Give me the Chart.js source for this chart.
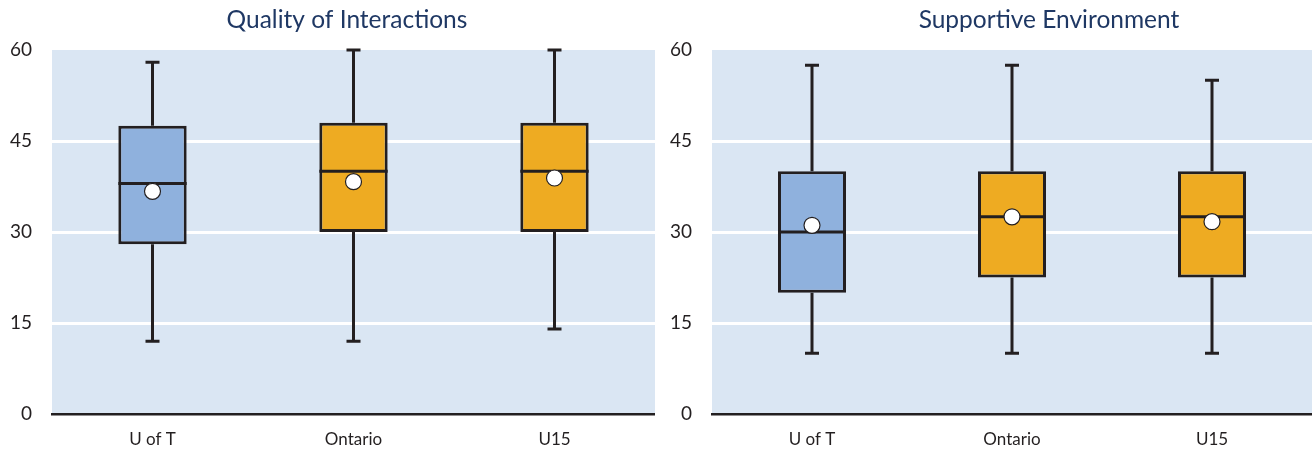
<!DOCTYPE html>
<html>
<head>
<meta charset="utf-8">
<title>Quality of Interactions / Supportive Environment</title>
<script src="https://cdn.jsdelivr.net/npm/chart.js@4/dist/chart.umd.min.js"></script>
<style>
  html, body { margin: 0; padding: 0; background: #ffffff; }
  #wrap { position: relative; width: 1312px; height: 450px; overflow: hidden; }
  .panel { position: absolute; top: 0; height: 450px; }
  #panelLeft { left: 0; width: 655px; }
  #panelRight { left: 660px; width: 652px; }
</style>
</head>
<body>
<div id="wrap">
  <div class="panel" id="panelLeft"><canvas id="chartQuality"></canvas></div>
  <div class="panel" id="panelRight"><canvas id="chartSupport"></canvas></div>
</div>
<script>
// ----- Data -----
const CATEGORIES = ["U of T", "Ontario", "U15"];
const Y_MIN = 0;
const Y_MAX = 60;
const Y_STEP = 15;

// Quality of Interactions
const QI_MIN = [12, 12, 14];
const QI_Q1 = [28, 30, 30];
const QI_MEDIAN = [38, 40, 40];
const QI_Q3 = [47.5, 48, 48];
const QI_MAX = [58, 60, 60];
const QI_MEAN = [36.7, 38.3, 38.9];

// Supportive Environment
const SE_MIN = [10, 10, 10];
const SE_Q1 = [20, 22.5, 22.5];
const SE_MEDIAN = [30, 32.5, 32.5];
const SE_Q3 = [40, 40, 40];
const SE_MAX = [57.5, 57.5, 55];
const SE_MEAN = [31.1, 32.5, 31.7];

(function () {
  "use strict";

  // ----- Styling -----
  const FONT = "Lato, 'Open Sans', sans-serif";
  const INK = "#231f20";
  const TITLE_COLOR = "#1f3864";
  const PLOT_BG = "#dae6f3";
  const BOX_COLORS = ["#8fb1dd", "#eeab22", "#eeab22"];
  const LINE_W = 3;
  const CAP_HALF = 7;

  // Fill the plot area with the pale blue panel colour
  const plotBackground = {
    id: "plotBackground",
    beforeDraw(chart) {
      const a = chart.chartArea;
      const ctx = chart.ctx;
      ctx.save();
      ctx.fillStyle = PLOT_BG;
      ctx.fillRect(a.left, a.top, a.right - a.left, a.bottom - a.top);
      ctx.restore();
    },
  };

  // Panel heading, placed at a fixed x inside its canvas
  const panelTitle = {
    id: "panelTitle",
    afterDraw(chart, args, opts) {
      const ctx = chart.ctx;
      ctx.save();
      ctx.font = "normal 24.5px " + FONT;
      ctx.fillStyle = TITLE_COLOR;
      ctx.textAlign = "center";
      ctx.textBaseline = "alphabetic";
      ctx.fillText(opts.text, opts.x, 27.5);
      ctx.restore();
    },
  };

  // Whiskers + caps (behind boxes) and median lines (on top of boxes)
  const boxExtras = {
    id: "boxExtras",
    beforeDatasetsDraw(chart) {
      const st = chart.options.plugins.boxExtras;
      const xs = chart.scales.x;
      const ys = chart.scales.y;
      const ctx = chart.ctx;
      ctx.save();
      ctx.strokeStyle = INK;
      ctx.lineWidth = LINE_W;
      ctx.lineCap = "butt";
      st.min.forEach((lo, i) => {
        const x = xs.getPixelForValue(i);
        const yLo = ys.getPixelForValue(lo);
        const yHi = ys.getPixelForValue(st.max[i]);
        const yQ1 = ys.getPixelForValue(st.q1[i]);
        const yQ3 = ys.getPixelForValue(st.q3[i]);
        ctx.beginPath();
        ctx.moveTo(x, yLo); ctx.lineTo(x, yQ1);
        ctx.moveTo(x, yQ3); ctx.lineTo(x, yHi);
        ctx.moveTo(x - CAP_HALF, yLo); ctx.lineTo(x + CAP_HALF, yLo);
        ctx.moveTo(x - CAP_HALF, yHi); ctx.lineTo(x + CAP_HALF, yHi);
        ctx.stroke();
      });
      ctx.restore();
    },
    afterDatasetDraw(chart, args) {
      if (args.index !== 0) return;
      const st = chart.options.plugins.boxExtras;
      const ys = chart.scales.y;
      const ctx = chart.ctx;
      const meta = chart.getDatasetMeta(0);
      ctx.save();
      ctx.strokeStyle = INK;
      ctx.lineWidth = LINE_W;
      meta.data.forEach((bar, i) => {
        const half = bar.width / 2;
        const y = ys.getPixelForValue(st.median[i]);
        ctx.beginPath();
        ctx.moveTo(bar.x - half, y);
        ctx.lineTo(bar.x + half, y);
        ctx.stroke();
      });
      ctx.restore();
    },
  };

  function makeChart(canvasId, title, titleX, stats) {
    const boxes = stats.q1.map((q1, i) => [q1, stats.q3[i]]);
    return new Chart(document.getElementById(canvasId), {
      type: "bar",
      data: {
        labels: CATEGORIES,
        datasets: [
          {
            label: "Box",
            data: boxes,
            backgroundColor: BOX_COLORS,
            borderColor: INK,
            borderWidth: LINE_W,
            borderSkipped: false,
            barPercentage: 0.34,
            categoryPercentage: 1,
            order: 2,
          },
          {
            type: "line",
            label: "Mean",
            data: stats.mean,
            showLine: false,
            pointStyle: "circle",
            pointRadius: 8,
            pointBackgroundColor: "#ffffff",
            pointBorderColor: INK,
            pointBorderWidth: 1.2,
            order: 1,
          },
        ],
      },
      options: {
        responsive: true,
        maintainAspectRatio: false,
        animation: false,
        // no extra room for point overflow; plot runs to the panel edge
        layout: { autoPadding: false, padding: { top: 50, left: 0, right: 0, bottom: 0 } },
        plugins: {
          legend: { display: false },
          tooltip: { enabled: false },
          title: { display: false },
          panelTitle: { text: title, x: titleX },
          boxExtras: stats,
        },
        scales: {
          x: {
            grid: { display: false, drawTicks: false },
            border: { display: true, color: INK, width: 2.5 },
            ticks: { color: INK, font: { family: FONT, size: 17 }, padding: 15 },
            afterFit(scale) { scale.height = 36; },
          },
          y: {
            min: Y_MIN,
            max: Y_MAX,
            grid: {
              drawTicks: false,
              lineWidth: 3,
              color: (c) => (c.tick && (c.tick.value === Y_MIN || c.tick.value === Y_MAX) ? "rgba(0,0,0,0)" : "#ffffff"),
            },
            border: { display: false },
            ticks: { stepSize: Y_STEP, color: INK, font: { family: FONT, size: 19 }, padding: 20 },
            afterFit(scale) { scale.width = 52; },
          },
        },
      },
      plugins: [plotBackground, boxExtras, panelTitle],
    });
  }

  makeChart("chartQuality", "Quality of Interactions", 347, {
    min: QI_MIN, q1: QI_Q1, median: QI_MEDIAN, q3: QI_Q3, max: QI_MAX, mean: QI_MEAN,
  });
  makeChart("chartSupport", "Supportive Environment", 389, {
    min: SE_MIN, q1: SE_Q1, median: SE_MEDIAN, q3: SE_Q3, max: SE_MAX, mean: SE_MEAN,
  });
})();
</script>
</body>
</html>
